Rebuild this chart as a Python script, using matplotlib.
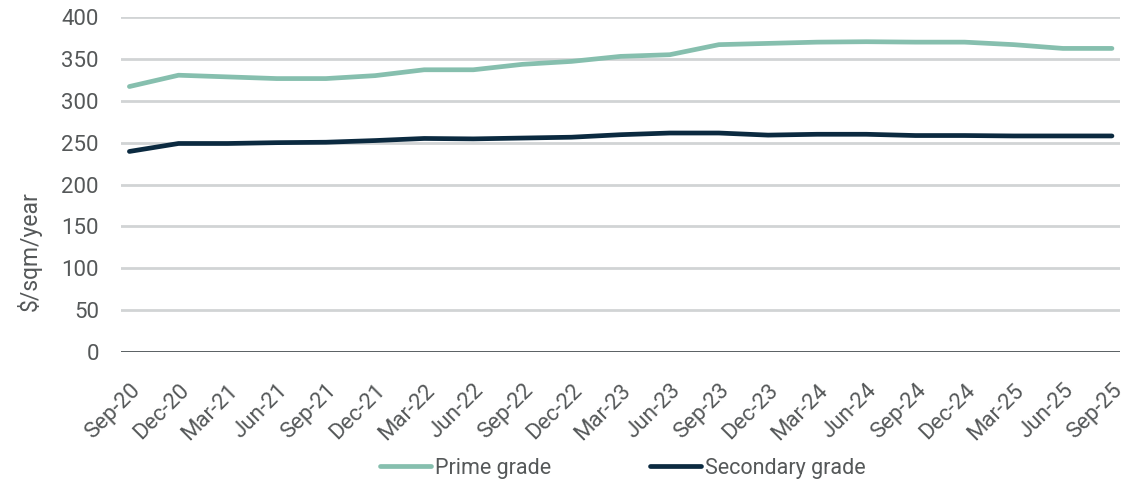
import matplotlib
matplotlib.use("Agg")
import matplotlib.pyplot as plt

plt.rcParams['font.family'] = ['Roboto', 'DejaVu Sans']

# quarterly rents, $/sqm/year
quarters = ["Sep-20", "Dec-20", "Mar-21", "Jun-21", "Sep-21", "Dec-21", "Mar-22",
            "Jun-22", "Sep-22", "Dec-22", "Mar-23", "Jun-23", "Sep-23", "Dec-23",
            "Mar-24", "Jun-24", "Sep-24", "Dec-24", "Mar-25", "Jun-25", "Sep-25"]
prime = [317, 330.5, 328.5, 326.5, 326.5, 330, 337, 337, 343.5, 347, 353,
         355, 367, 368.5, 370, 370.5, 370, 370, 367, 362.5, 362.5]
secondary = [239.5, 249, 249, 250, 250.5, 252.5, 255, 254.5, 255.5, 256.5, 259.5,
             261.5, 261.5, 259, 260, 260, 258.5, 258.5, 258, 258, 258]
yticks = [0, 50, 100, 150, 200, 250, 300, 350, 400]

c_prime = "#86BFAE"
c_sec = "#0B2A40"
c_text = "#555859"

fig = plt.figure(figsize=(11.42, 4.79), dpi=100)
ax = fig.add_axes([0.106, 0.265, 0.875, 0.6995])

x = list(range(len(quarters)))
ax.plot(x, prime, color=c_prime, lw=3.4, solid_capstyle='round', label="Prime grade", zorder=3)
ax.plot(x, secondary, color=c_sec, lw=3.4, solid_capstyle='round', label="Secondary grade", zorder=3)

ax.set_ylim(0, 400)
ax.set_xlim(-0.17, 20.17)
ax.set_yticks(yticks)
ax.set_xticks(x)
ax.set_xticklabels(quarters, rotation=45, ha='right', rotation_mode='anchor')

for v in yticks[1:]:
    ax.axhline(v, color="#D1D4D5", lw=2, zorder=1)
ax.axhline(0, color="#4A5054", lw=2, zorder=2)

for s in ax.spines.values():
    s.set_visible(False)
ax.tick_params(axis='both', length=0, labelsize=16, colors=c_text)
ax.tick_params(axis='y', pad=16)
ax.tick_params(axis='x', pad=20)

ax.set_ylabel("$/sqm/year", fontsize=16.5, color=c_text)
ax.yaxis.set_label_coords(-0.079, 0.30)

leg = fig.legend(loc='lower center', bbox_to_anchor=(0.545, -0.04), ncol=2, frameon=False,
                 fontsize=15.5, handlelength=2.4, handletextpad=0.15, columnspacing=4.6)
for t in leg.get_texts():
    t.set_color(c_text)

fig.savefig("out.png", dpi=100)
